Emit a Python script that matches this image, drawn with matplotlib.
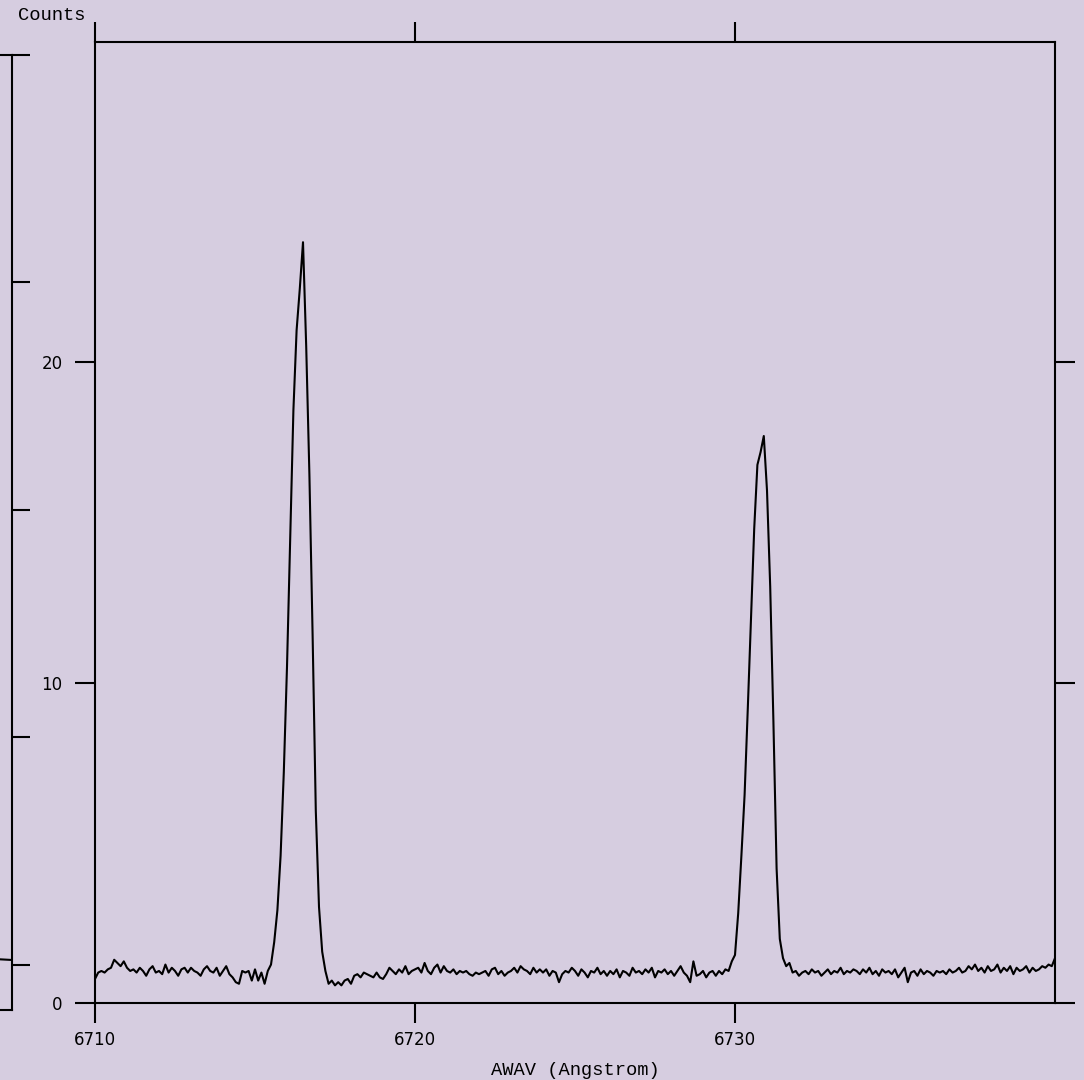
"""
Spectrum plot: two emission lines near 6716 and 6731 Angstrom
"""
import numpy as np
import matplotlib
matplotlib.use('Agg')
import matplotlib.pyplot as plt

# wavelength grid (Angstrom) and counts
wave_start = 6710.0
wave_step = 0.1
counts = [
    0.75, 0.95, 1.0, 0.95, 1.05, 1.1, 1.35, 1.25, 1.15, 1.3,     # 6710
    1.1, 1.0, 1.05, 0.95, 1.1, 1.0, 0.85, 1.05, 1.15, 0.95,      # 6711
    1.0, 0.9, 1.2, 0.95, 1.1, 1.0, 0.85, 1.05, 1.1, 0.95,        # 6712
    1.1, 1.0, 0.95, 0.85, 1.05, 1.15, 1.0, 0.95, 1.1, 0.85,      # 6713
    1.0, 1.15, 0.9, 0.8, 0.65, 0.6, 1.0, 0.95, 1.0, 0.7,         # 6714
    1.05, 0.7, 0.95, 0.6, 1.0, 1.2, 1.9, 2.9, 4.6, 7.2,          # 6715
    10.5, 14.5, 18.5, 21.0, 22.3, 23.75, 20.5, 16.5, 11.5, 6.0,  # 6716
    3.0, 1.6, 1.0, 0.6, 0.7, 0.55, 0.65, 0.55, 0.7, 0.75,        # 6717
    0.6, 0.85, 0.9, 0.8, 0.95, 0.9, 0.85, 0.8, 0.95, 0.8,        # 6718
    0.75, 0.9, 1.1, 1.0, 0.9, 1.05, 0.95, 1.15, 0.9, 1.0,        # 6719
    1.05, 1.1, 0.95, 1.25, 1.0, 0.9, 1.1, 1.2, 0.95, 1.15,       # 6720
    1.0, 0.95, 1.05, 0.9, 1.0, 0.95, 1.0, 0.9, 0.85, 0.95,       # 6721
    0.9, 0.95, 1.0, 0.85, 1.05, 1.1, 0.9, 1.0, 0.85, 0.95,       # 6722
    1.0, 1.1, 0.95, 1.15, 1.05, 1.0, 0.9, 1.1, 0.95, 1.05,       # 6723
    0.95, 1.05, 0.85, 1.0, 0.95, 0.65, 0.9, 1.0, 0.95, 1.1,      # 6724
    1.0, 0.85, 1.05, 0.95, 0.8, 1.0, 0.95, 1.1, 0.9, 1.0,        # 6725
    0.85, 1.0, 0.9, 1.05, 0.8, 1.0, 0.95, 0.85, 1.1, 0.95,       # 6726
    1.0, 0.9, 1.05, 0.95, 1.1, 0.8, 1.0, 0.95, 1.05, 0.9,        # 6727
    1.0, 0.85, 1.0, 1.15, 0.95, 0.85, 0.65, 1.3, 0.85, 0.9,      # 6728
    1.0, 0.8, 0.95, 1.0, 0.85, 1.0, 0.9, 1.05, 1.0, 1.3,         # 6729
    1.5, 2.8, 4.6, 6.5, 9.2, 12.0, 14.8, 16.8, 17.2, 17.7,       # 6730
    16.0, 13.0, 8.8, 4.2, 2.0, 1.4, 1.15, 1.25, 0.95, 1.0,       # 6731
    0.85, 0.95, 1.0, 0.9, 1.05, 0.95, 1.0, 0.85, 0.95, 1.05,     # 6732
    0.9, 1.0, 0.95, 1.1, 0.9, 1.0, 0.95, 1.05, 1.0, 0.9,         # 6733
    1.05, 0.95, 1.1, 0.9, 1.0, 0.85, 1.05, 0.95, 1.0, 0.9,       # 6734
    1.05, 0.8, 0.95, 1.1, 0.65, 0.95, 1.0, 0.85, 1.05, 0.9,      # 6735
    1.0, 0.95, 0.85, 1.0, 0.95, 1.0, 0.9, 1.05, 0.95, 1.0,       # 6736
    1.1, 0.95, 1.0, 1.15, 1.05, 1.2, 1.0, 1.1, 0.95, 1.15,       # 6737
    1.0, 1.05, 1.2, 0.95, 1.1, 1.0, 1.15, 0.9, 1.1, 1.0,         # 6738
    1.05, 1.15, 0.95, 1.1, 1.0, 1.05, 1.15, 1.1, 1.2, 1.15,      # 6739
    1.4,                                                         # 6740
]
x_ticks = [6710, 6720, 6730]
y_ticks = [0, 10, 20]

# clipped neighbour panel on the far left
side_x = [0.0, 0.3, 0.6, 1.0]
side_y = [0.04, 0.02, 0.05, 0.02]
side_ticks = [0, 1, 2, 3, 4]

BG = '#D6CDE0'
MONO = 'Liberation Mono'

W, H = 1084, 1080
fig = plt.figure(figsize=(W / 100, H / 100), dpi=100)
fig.patch.set_facecolor(BG)

wave = wave_start + wave_step * np.arange(len(counts))

# main axes
ax = fig.add_axes([95 / W, (H - 1003) / H, 960 / W, 961 / H])
ax.set_facecolor(BG)
ax.plot(wave, counts, color='black', linewidth=1.5)
ax.set_xlim(6710, 6740)
ax.set_ylim(0, 30)

for s in ax.spines.values():
    s.set_linewidth(1.5)
    s.set_color('black')

ax.set_xticks(x_ticks)
ax.set_yticks(y_ticks)
ax.tick_params(axis='both', direction='out', length=14.4, width=1.5,
               labelsize=12, pad=6, top=True, right=True)
ax.tick_params(axis='y', pad=9)
ax.set_xlabel('AWAV (Angstrom)', family=MONO, fontsize=13.5, labelpad=9)
fig.text(18 / W, 1 - 15 / H, 'Counts', family=MONO, fontsize=13.5,
         ha='left', va='center')

# partial panel to the left
ax2 = fig.add_axes([-300 / W, (H - 1010) / H, 312 / W, 955 / H])
ax2.set_facecolor(BG)
ax2.patch.set_alpha(0)
ax2.plot(side_x, side_y, color='black', linewidth=1.5)
ax2.set_xlim(0, 1)
ax2.set_ylim(-0.2, 4)
ax2.spines['left'].set_visible(False)
for s in ['right', 'top', 'bottom']:
    ax2.spines[s].set_linewidth(1.5)
ax2.set_xticks([])
ax2.set_yticks(side_ticks)
ax2.yaxis.tick_right()
ax2.tick_params(axis='y', direction='out', length=13, width=1.5,
                labelright=False)

fig.savefig('out.png', dpi=100, facecolor=BG)
